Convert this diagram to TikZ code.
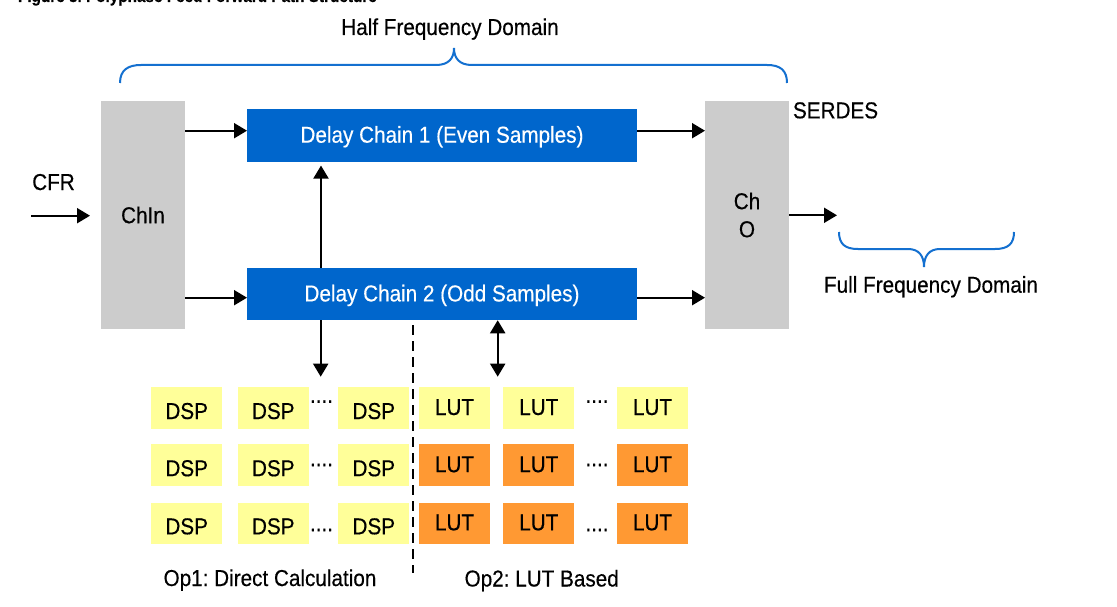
\documentclass[tikz,border=0pt]{standalone}
\usepackage{fontspec}
\setmainfont{Liberation Sans}[FakeStretch=0.9,FakeBold=0.4]
\usetikzlibrary{arrows.meta}
\definecolor{dcblue}{RGB}{0,102,204}
\definecolor{brblue}{RGB}{20,112,208}
\definecolor{boxgray}{RGB}{204,204,204}
\definecolor{dspyellow}{RGB}{255,255,153}
\definecolor{lutorange}{RGB}{255,153,51}
\frenchspacing
\begin{document}
\begin{tikzpicture}[x=1pt,y=-1pt,
  txt/.style={font=\fontsize{23}{28}\selectfont, inner sep=0pt, outer sep=0pt},
  graybox/.style={txt, fill=boxgray, minimum width=84pt, minimum height=228pt, align=center},
  chainbox/.style={txt, fill=dcblue, text=white, minimum width=390pt, minimum height=52.5pt, text height=16.5pt, text depth=1.7pt},
  dspbox/.style={txt, fill=dspyellow, minimum width=71pt, minimum height=41.5pt, text height=22pt, text depth=0pt},
  lutbox/.style={txt, minimum width=71pt, minimum height=41.5pt, text height=16pt, text depth=2pt},
  lutyel/.style={lutbox, fill=dspyellow},
  lutorg/.style={lutbox, fill=lutorange},
  arr/.style={line width=2pt, -{Triangle[length=13pt,width=15pt]}},
  darr/.style={line width=2pt, {Triangle[length=13pt,width=15pt]}-{Triangle[length=13pt,width=15pt]}},
  brace/.style={draw=brblue, line width=2pt},
  dashline/.style={line width=2pt, dash pattern=on 10pt off 6pt},
]
\path[use as bounding box] (0,0) rectangle (1117,607);
\clip (0,0) rectangle (1117,607);
\fill[white] (0,0) rectangle (1117,607);

% title (cut off at the top, as in the reference)
\node[txt, anchor=base west, font=\bfseries\fontsize{17}{20}\selectfont] (title) at (18,2) {Figure 3. Polyphase Feed Forward Path Structure};

% top brace + label
\node[txt, anchor=base] (half) at (450,35) {Half Frequency Domain};
\draw[brace] (120,83) .. controls (120,70) and (128,65) .. (141,65) -- (436,65)
  .. controls (449,65) and (454,58) .. (454,48)
  .. controls (454,58) and (459,65) .. (472,65) -- (767,65)
  .. controls (780,65) and (787,70) .. (787,83);

% main blocks
\node[graybox] (chin) at (143,215) {ChIn};
\node[graybox] (cho) at (747,215) {Ch\\O};
\node[chainbox] (dc1) at (442,135.3) {Delay Chain 1 (Even Samples)};
\node[chainbox] (dc2) at (442,294) {Delay Chain 2 (Odd Samples)};

\node[txt, anchor=base] (cfr) at (53.5,190) {CFR};
\node[txt, anchor=base west] (serdes) at (793,118.3) {SERDES};
\node[txt, anchor=base] (full) at (931,292.7) {Full Frequency Domain};

% connectors
\coordinate (cfrin) at (31,215.7);
\draw[arr, shorten >=11pt] (cfrin) -- (chin.west |- cfrin);
\draw[arr] (chin.east |- 0,130.7) -- (dc1.west |- 0,130.7);
\draw[arr] (chin.east |- 0,297.7) -- (dc2.west |- 0,297.7);
\draw[arr] (dc1.east |- 0,130.7) -- (cho.west |- 0,130.7);
\draw[arr] (dc2.east |- 0,297.7) -- (cho.west |- 0,297.7);
\draw[arr, shorten >=4pt] (dc2.north -| 321,0) -- (dc1.south -| 321,0);
\coordinate (out) at (837,215.3);
\draw[arr] (cho.east |- out) -- (out);

% bottom brace
\draw[brace] (839,232) .. controls (839,244) and (845,249) .. (858,249) -- (908,249)
  .. controls (919,249) and (924,256) .. (924,267)
  .. controls (924,256) and (929,249) .. (940,249) -- (995,249)
  .. controls (1008,249) and (1014,244) .. (1014,232);

% down arrows to the option arrays
\coordinate (dspin) at (320.7,376.7);
\draw[arr] (dc2.south -| dspin) -- (dspin);
\coordinate (lutin) at (497.7,376.7);
\draw[darr] (dc2.south -| lutin) -- (lutin);

% dashed separator
\coordinate (dtop) at (413.3,325);
\coordinate (dbot) at (413.3,573);
\draw[dashline] (dtop) -- (dbot);

% DSP array
\foreach \r/\y in {1/408,2/465.2,3/523.3}{
  \foreach \c/\x in {1/186.7,2/273.3,3/373.8}{
    \node[dspbox] (dsp\r\c) at (\x,\y) {DSP};
  }
}
% LUT array
\foreach \c/\x in {1/454.5,2/538.8,3/652.5}{
  \node[lutyel] (lut1\c) at (\x,408) {LUT};
  \node[lutorg] (lut2\c) at (\x,465.2) {LUT};
  \node[lutorg] (lut3\c) at (\x,523.3) {LUT};
}
% dots
\node[txt] (ddot1) at (321.5,401.7) {....};
\node[txt] (ddot2) at (321.5,465) {....};
\node[txt] (ddot3) at (321.5,530) {....};
\node[txt] (ldot1) at (597,401.7) {....};
\node[txt] (ldot2) at (597,465) {....};
\node[txt] (ldot3) at (597,530) {....};

% captions
\node[txt, anchor=base] (op1) at (270,586) {Op1: Direct Calculation};
\node[txt, anchor=base] (op2) at (541.7,586.5) {Op2: LUT Based};
\end{tikzpicture}
\end{document}
